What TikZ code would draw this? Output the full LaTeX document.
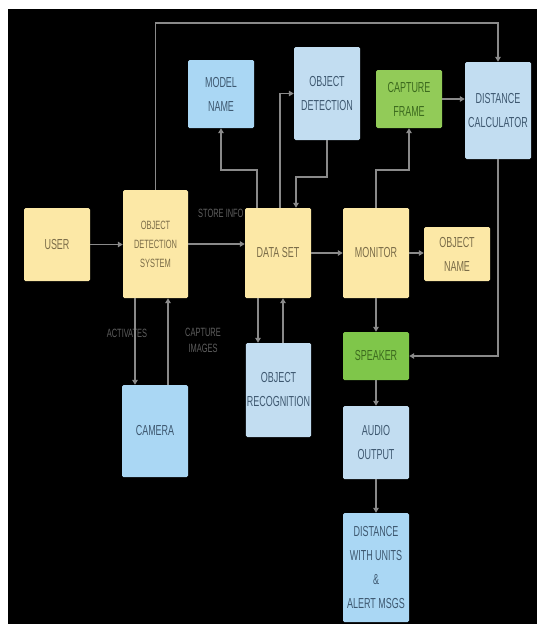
\documentclass[tikz,border=0pt]{standalone}
\usepackage{fontspec}
\newfontfamily\cond[FakeStretch=0.62]{Liberation Sans}
\usetikzlibrary{arrows.meta,positioning}
\definecolor{ylw}{HTML}{FCE8A6}
\definecolor{ylwtxt}{HTML}{7A6C48}
\definecolor{blu}{HTML}{AAD7F4}
\definecolor{blul}{HTML}{C2DDF1}
\definecolor{blutxt}{HTML}{3E5870}
\definecolor{grn}{HTML}{7FC64A}
\definecolor{grntxt}{HTML}{3C6A1E}
\definecolor{conncol}{HTML}{8A8A8A}
\definecolor{lblcol}{HTML}{5E5E5E}
\tikzset{
  box/.style={rectangle, rounded corners=1.5pt, inner sep=1pt, align=center,
    font=\cond\fontsize{14.5}{24}\selectfont},
  ybox/.style={box, fill=ylw, text=ylwtxt},
  bbox/.style={box, fill=blu, text=blutxt},
  lbbox/.style={box, fill=blul, text=blutxt},
  gbox/.style={box, fill=grn, text=grntxt},
  conn/.style={draw=conncol, line width=1.8pt, -{Triangle[length=5pt,width=5.5pt]}},
  lbl/.style={text=lblcol, font=\cond\fontsize{12}{16}\selectfont, align=center, inner sep=0pt},
}
\begin{document}
\begin{tikzpicture}[x=1pt,y=-1pt]
\fill[white] (0,0) rectangle (537,624);
\fill[black] (8,9) rectangle (537,624);
\useasboundingbox (0,0) rectangle (537,624);

% labels drawn first (STORE INFO is partly covered by DATA SET)
\node[lbl, anchor=west] (storeinfo) at (198,213) {STORE INFO};
\node[lbl] (activates) at (127,333) {ACTIVATES};
\node[lbl] (capimg) at (203,340) {CAPTURE\\IMAGES};

% nodes
\node[ybox, minimum width=66pt, minimum height=73pt] (user) at (57,244.5) {USER};
\node[ybox, minimum width=65pt, minimum height=108pt, font=\cond\fontsize{12}{19}\selectfont] (ods) at (155.5,244) {OBJECT\\DETECTION\\SYSTEM};
\node[ybox, minimum width=66pt, minimum height=90pt] (dataset) at (278,253) {DATA SET};
\node[ybox, minimum width=66pt, minimum height=90pt] (monitor) at (376,253) {MONITOR};
\node[ybox, minimum width=66pt, minimum height=54pt] (objname) at (457,254) {OBJECT\\NAME};
\node[bbox, minimum width=66pt, minimum height=68pt] (modelname) at (221,94) {MODEL\\NAME};
\node[lbbox, minimum width=66pt, minimum height=93pt] (objdet) at (327,93.5) {OBJECT\\DETECTION};
\node[gbox, minimum width=66pt, minimum height=58pt, fill=grn!85!ylw] (capture) at (409,99) {CAPTURE\\FRAME};
\node[lbbox, minimum width=66pt, minimum height=97pt] (distcalc) at (498,110.5) {DISTANCE\\CALCULATOR};
\node[bbox, minimum width=66pt, minimum height=92pt] (camera) at (155,431) {CAMERA};
\node[lbbox, minimum width=65pt, minimum height=94pt] (objrec) at (278.5,390) {OBJECT\\RECOGNITION};
\node[gbox, minimum width=66pt, minimum height=48pt] (speaker) at (376,356) {SPEAKER};
\node[lbbox, minimum width=66pt, minimum height=73pt] (audio) at (376,442.5) {AUDIO\\OUTPUT};
\node[bbox, minimum width=66pt, minimum height=109pt] (distunits) at (376,567.5) {DISTANCE\\WITH UNITS\\\&\\ALERT MSGS};

% helper coordinates
\coordinate (htop) at (0,23);
\coordinate (h1) at (0,170);
\coordinate (h2) at (0,177);
\coordinate (dA) at ([xshift=-21pt]dataset.north);
\coordinate (dB) at ([xshift=2pt]dataset.north);
\coordinate (dC) at ([xshift=18pt]dataset.north);
\coordinate (c1) at ([xshift=-20.5pt]ods.south);
\coordinate (c2) at ([xshift=12.5pt]ods.south);
\coordinate (r1) at ([xshift=-20pt]dataset.south);
\coordinate (r2) at ([xshift=5pt]dataset.south);

% connectors
\draw[conn] (user.east) -- (user.east -| ods.west);
\draw[conn] (ods.east) -- (ods.east -| dataset.west);
\draw[conn] (dataset.east) -- (monitor.west);
\draw[conn] (monitor.east) -- (monitor.east -| objname.west);
\draw[conn] (ods.north) |- (distcalc.north |- htop) -- (distcalc.north);
\draw[conn] (dA) |- (modelname.south |- h1) -- (modelname.south);
\draw[conn] (dB) |- (objdet.west);
\draw[conn] (objdet.south) |- (dC |- h2) -- (dC);
\draw[conn] (monitor.north) |- (capture.south |- h1) -- (capture.south);
\draw[conn] (capture.east) -- (capture.east -| distcalc.west);
\draw[conn] (distcalc.south) |- (speaker.east);
\draw[conn] (monitor.south) -- (speaker.north);
\draw[conn] (speaker.south) -- (audio.north);
\draw[conn] (audio.south) -- (distunits.north);
\draw[conn] (c1) -- (c1 |- camera.north);
\draw[conn] (c2 |- camera.north) -- (c2);
\draw[conn] (r1) -- (r1 |- objrec.north);
\draw[conn] (r2 |- objrec.north) -- (r2);
\end{tikzpicture}
\end{document}
